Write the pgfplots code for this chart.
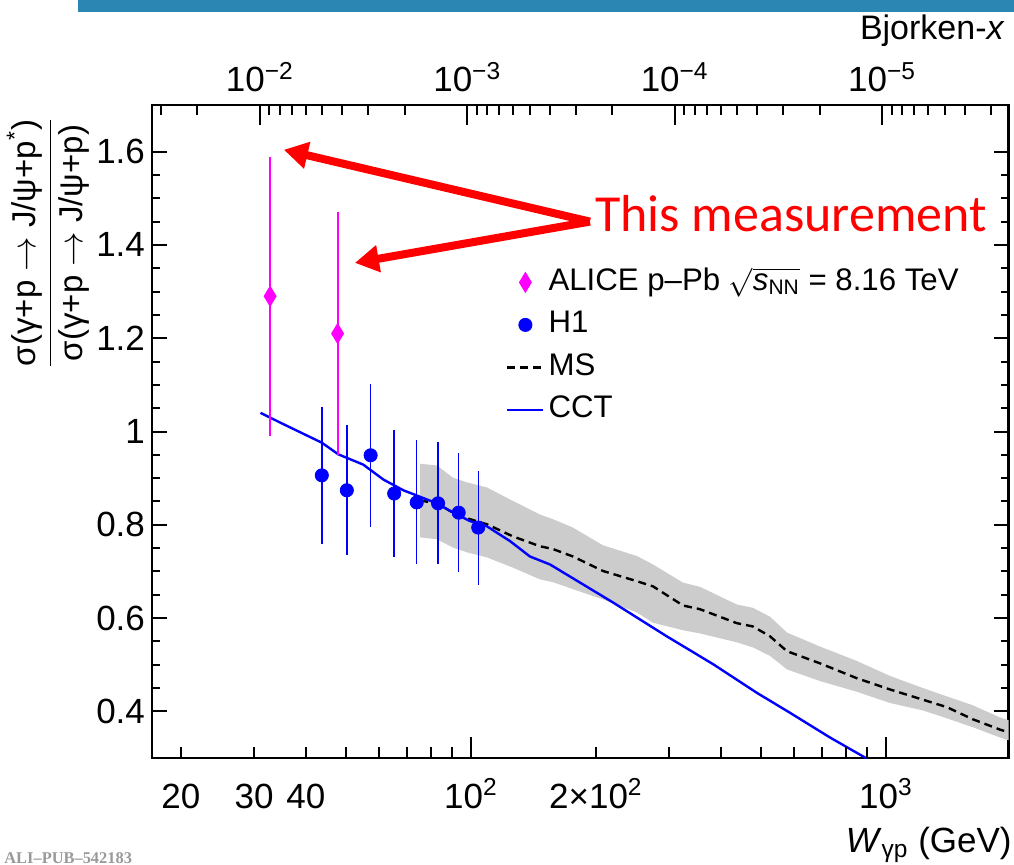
\documentclass[border=0pt]{standalone}
\usepackage{pgfplots}
\pgfplotsset{compat=1.18}
\usepackage{pgfplotstable}
\usetikzlibrary{arrows.meta}
\usepackage{fontspec}
\setmainfont{Liberation Sans}
\newfontfamily\calfont{Carlito}
\newfontfamily\serifbf{Liberation Serif}
\definecolor{bandgray}{RGB}{204,204,204}
\definecolor{banner}{RGB}{44,134,180}
\definecolor{alimag}{RGB}{255,0,255}
\definecolor{hblue}{RGB}{0,0,255}

\pgfplotstableread{
W y em ep
32.8 1.290 0.299 0.298
47.7 1.210 0.261 0.261
}\alice

\pgfplotstableread{
W y ep em
43.7 0.906 0.147 0.147
50.2 0.874 0.139 0.138
57.3 0.949 0.152 0.153
65.3 0.867 0.136 0.135
74.0 0.848 0.133 0.133
83.3 0.846 0.132 0.131
93.4 0.826 0.127 0.127
104.1 0.794 0.122 0.123
}\hone

\pgfplotstableread{
W y
31.1 1.040
34.7 1.019
43.7 0.976
47.9 0.951
55.0 0.929
61.5 0.897
68.7 0.874
75.4 0.860
82.7 0.846
90.6 0.826
99.4 0.808
109.1 0.797
124.2 0.765
138.7 0.732
155.0 0.715
220.3 0.633
296.2 0.561
383.6 0.501
488.1 0.440
587.1 0.397
733.2 0.344
898.6 0.299
}\cct

\pgfplotstableread{
W mid
75.4 0.852
82.8 0.846
90.5 0.826
97.8 0.814
109.3 0.801
126.3 0.775
146.6 0.754
157.6 0.748
176.1 0.732
208.0 0.701
251.2 0.679
274.5 0.668
324.3 0.627
356.3 0.619
437.5 0.589
478.1 0.582
525.5 0.561
577.4 0.529
693.4 0.503
851.4 0.471
1022.3 0.447
1228.0 0.425
1403 0.409
1620 0.383
1882 0.361
1976 0.355
}\ms

% band outline: upper edge left to right, then lower edge right to left
\pgfplotstableread{
W y
75.4 0.931
82.8 0.927
90.5 0.901
97.8 0.891
109.3 0.880
126.3 0.851
146.6 0.822
157.6 0.812
176.1 0.794
208.0 0.756
251.2 0.733
274.5 0.715
324.3 0.676
356.3 0.667
437.5 0.629
478.1 0.622
525.5 0.603
577.4 0.569
693.4 0.539
851.4 0.508
1022.3 0.476
1228.0 0.450
1403 0.432
1620 0.413
1882 0.387
1976 0.381
1976 0.338
1882 0.344
1620 0.366
1403 0.385
1228.0 0.402
1022.3 0.418
851.4 0.442
693.4 0.465
577.4 0.490
525.5 0.519
478.1 0.537
437.5 0.548
356.3 0.567
324.3 0.574
274.5 0.590
251.2 0.612
208.0 0.640
176.1 0.662
157.6 0.677
146.6 0.683
126.3 0.708
109.3 0.730
97.8 0.741
90.5 0.751
82.8 0.769
75.4 0.773
}\band

\begin{document}
\begin{tikzpicture}
\path (0pt,0pt) rectangle (507pt,432pt);
\fill[banner] (39pt,426pt) rectangle (507pt,432pt);
% main axis: y ticks and data
\begin{axis}[at={(76pt,53pt)}, anchor=south west,
  width=428.3pt, height=326.5pt, scale only axis,
  xmode=log, xmin=17.03, xmax=1976, ymin=0.3, ymax=1.7,
  tick align=inside, tick style={black, line width=1pt},
  axis line style={line width=1.2pt},
  xtick=\empty,
  ytick={0.4,0.6,0.8,1,1.2,1.4,1.6}, minor y tick num=3,
  major tick length=7.5pt, minor tick length=4pt,
  /pgf/number format/assume math mode=true,
  yticklabel style={font=\fontsize{17.5}{20}\selectfont},
  legend image code/.code={\draw[mark repeat=2,mark phase=2,#1] plot coordinates {(0pt,0pt)(9pt,0pt)(18pt,0pt)};},
  legend cell align=left,
  legend style={draw=none, fill=none, inner sep=0pt, row sep=3.25pt,
    at={(0.413,0.7565)}, anchor=north west,
    font=\fontsize{15.6}{18}\selectfont,
    nodes={text height=11pt, text depth=3pt, inner sep=2pt}},
]
\addlegendimage{only marks, mark=diamond*, color=alimag, mark options={xscale=0.8}, mark size=5pt}
\addlegendentry{ALICE p\textendash Pb $\sqrt{\hbox{\textit{s}}_{\hbox{\fontsize{10.5}{12}\selectfont NN}}}$ = 8.16 TeV}
\addlegendimage{only marks, mark=*, color=hblue, mark size=3.3pt}
\addlegendentry{H1}
\addlegendimage{black, line width=1.2pt, dash pattern=on 4pt off 2.5pt}
\addlegendentry{MS}
\addlegendimage{hblue, line width=1.2pt}
\addlegendentry{CCT}

\addplot[fill=bandgray, draw=none, forget plot] table[x=W, y=y] {\band} -- cycle;
\addplot[black, line width=1.2pt, dash pattern=on 4pt off 2.5pt, forget plot] table[x=W, y=mid] {\ms};
\addplot[hblue, line width=1.2pt, forget plot] table[x=W, y=y] {\cct};
\addplot[only marks, mark=*, color=hblue, mark size=3.3pt, forget plot,
  error bars/.cd, y dir=both, y explicit, error mark=none,
  error bar style={line width=0.7pt, hblue}]
  table[x=W, y=y, y error plus=ep, y error minus=em] {\hone};
\addplot[only marks, mark=diamond*, color=alimag, mark size=5pt, mark options={xscale=0.8}, forget plot,
  error bars/.cd, y dir=both, y explicit, error mark=none,
  error bar style={line width=1pt, alimag}]
  table[x=W, y=y, y error plus=ep, y error minus=em] {\alice};

\draw[red, line width=4pt, -{Triangle[length=12pt,width=13pt]}] (axis cs:193.5,1.450) -- (axis cs:35.4,1.604);
\draw[red, line width=4pt, -{Triangle[length=12pt,width=13pt]}] (axis cs:193.5,1.450) -- (axis cs:52.5,1.3615);
\node[anchor=base west, inner sep=0pt, text=red, font=\calfont\fontsize{26}{30}\selectfont] at (axis cs:199,1.4286) {This measurement};
\end{axis}
% bottom axis ticks
\begin{axis}[at={(76pt,53pt)}, anchor=south west,
  width=428.3pt, height=326.5pt, scale only axis,
  xmode=log, xmin=17.03, xmax=1976, ymin=0.3, ymax=1.7,
  tick align=inside, tick style={black, line width=1pt},
  axis line style={draw=none}, ytick=\empty,
  xtick pos=left, major tick length=10.5pt, minor tick length=5.5pt,
  xtick={100,1000}, xticklabels={10\textsuperscript{2},10\textsuperscript{3}},
  extra x ticks={20,30,40,200},
  extra x tick labels={20,30 ,40,2×10\textsuperscript{2}},
  extra x tick style={tick style={draw=none}},
  minor xtick={20,30,40,50,60,70,80,90,200,300,400,500,600,700,800,900},
  xticklabel style={font=\fontsize{17.5}{20}\selectfont, anchor=base, yshift=-25pt},
]
\addplot[draw=none] coordinates {(100,1)};
\end{axis}
% top axis: Bjorken-x
\begin{axis}[at={(76pt,53pt)}, anchor=south west,
  width=428.3pt, height=326.5pt, scale only axis,
  xmode=log, xmin=17.03, xmax=1976, ymin=0.3, ymax=1.7,
  tick align=inside, tick style={black, line width=1pt},
  axis line style={draw=none}, ytick=\empty,
  xtick pos=right, xticklabel pos=right, major tick length=10pt, minor tick length=5pt,
  xtick={30.97,97.94,309.7,979.4},
  xticklabels={10\textsuperscript{−2},10\textsuperscript{−3},10\textsuperscript{−4},10\textsuperscript{−5}},
  minor xtick={17.88,21.90,32.65,34.63,37.02,39.98,43.80,48.97,56.54,69.25,103.23,109.50,117.06,126.43,138.50,154.85,178.80,218.99,326.5,346.3,370.2,399.8,438.0,489.7,565.4,692.5,1032.3,1095,1170.6,1264,1385,1548.5,1788},
  xticklabel style={font=\fontsize{17.5}{20}\selectfont, anchor=base, yshift=6.5pt},
]
\addplot[draw=none] coordinates {(100,1)};
\end{axis}
% labels
\node[rotate=90, inner sep=0pt, font=\fontsize{16.5}{19}\selectfont] at (24pt,310.5pt)
  {$\displaystyle\frac{\hbox{σ(γ+p $\rightarrow$ J/ψ+p\textsuperscript{*})}}{\hbox{σ(γ+p $\rightarrow$ J/ψ+p)}}$};
\node[anchor=base east, inner sep=0pt, font=\fontsize{17.5}{20}\selectfont] at (506pt,6pt)
  {\textit{W}\textsubscript{γp} (GeV)};
\node[anchor=base east, inner sep=0pt, font=\fontsize{17}{20}\selectfont] at (502.5pt,412pt)
  {Bjorken-\textit{x}};
\node[anchor=base west, inner sep=0pt, text=black!40, font=\serifbf\bfseries\fontsize{8.2}{9}\selectfont] at (2pt,0.5pt)
  {ALI\textendash PUB\textendash 542183};
\end{tikzpicture}
\end{document}
